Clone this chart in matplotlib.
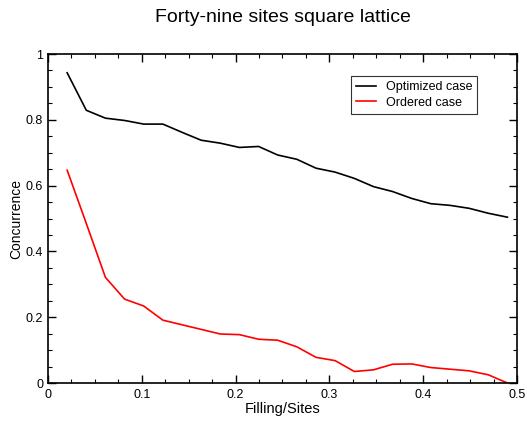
import matplotlib
matplotlib.use("Agg")
import matplotlib.pyplot as plt
from matplotlib.ticker import MultipleLocator

# filling = n / 49 for n = 1..24
filling = [n / 49 for n in range(1, 25)]

optimized = [0.943, 0.829, 0.805, 0.798, 0.787, 0.787, 0.762, 0.738,
             0.729, 0.716, 0.719, 0.693, 0.680, 0.653, 0.641, 0.622,
             0.597, 0.582, 0.561, 0.545, 0.540, 0.531, 0.516, 0.504]

ordered = [0.647, 0.485, 0.321, 0.255, 0.234, 0.191, 0.177, 0.163,
           0.149, 0.147, 0.133, 0.130, 0.110, 0.078, 0.068, 0.035,
           0.040, 0.057, 0.058, 0.047, 0.042, 0.037, 0.025, 0.0]

plt.rcParams['font.family'] = ['Liberation Sans', 'DejaVu Sans']

fig = plt.figure(figsize=(5.27, 4.22), dpi=100)
ax = fig.add_axes([0.0911, 0.0924, 0.8899, 0.7796])

ax.plot(filling, optimized, color='black', lw=1.2, label='Optimized case')
ax.plot(filling, ordered, color='red', lw=1.2, label='Ordered case')

ax.set_xlim(0, 0.5)
ax.set_ylim(0, 1)
ax.xaxis.set_major_locator(MultipleLocator(0.1))
ax.xaxis.set_minor_locator(MultipleLocator(0.025))
ax.yaxis.set_major_locator(MultipleLocator(0.2))
ax.yaxis.set_minor_locator(MultipleLocator(0.05))

def fmt(v, pos):
    return '%g' % round(v, 3)
ax.xaxis.set_major_formatter(fmt)
ax.yaxis.set_major_formatter(fmt)

ax.tick_params(which='both', direction='in', top=True, right=True, labelsize=9)
ax.tick_params(which='major', length=6, width=1)
ax.tick_params(which='minor', length=3, width=0.8)
ax.tick_params(axis='y', which='major', pad=3.5)
ax.tick_params(axis='x', which='major', pad=4)
for s in ax.spines.values():
    s.set_linewidth(1.2)

ax.set_xlabel('Filling/Sites', fontsize=10.5, labelpad=1)
ax.set_ylabel('Concurrence', fontsize=10)
ax.yaxis.set_label_coords(-0.053, 0.5)
ax.set_title('Forty-nine sites square lattice', fontsize=14, pad=23)

leg = ax.legend(loc='upper right', bbox_to_anchor=(0.915, 0.932), fontsize=9,
                frameon=True, fancybox=False, edgecolor='black',
                borderaxespad=0, handlelength=1.6, borderpad=0.4,
                labelspacing=0.25, handletextpad=0.8)
leg.get_frame().set_linewidth(0.8)

fig.savefig('out.png', dpi=100)
